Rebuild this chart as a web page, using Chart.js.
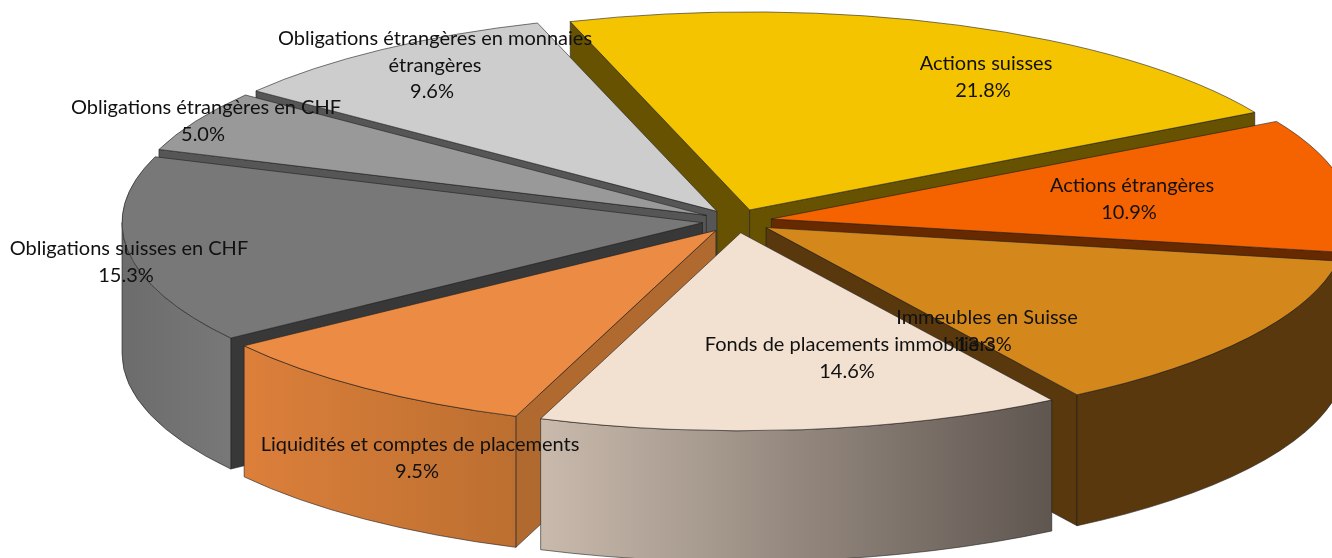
<!DOCTYPE html>
<html>
<head>
<meta charset="utf-8">
<style>
  html, body { margin: 0; padding: 0; background: #fff; }
  canvas { display: block; }
</style>
<script src="https://cdn.jsdelivr.net/npm/chart.js@4/dist/chart.umd.min.js"></script>
</head>
<body>
<canvas id="pie" width="1332" height="558"></canvas>
<script>
const categories = [
  ["Actions suisses"],
  ["Actions étrangères"],
  ["Immeubles en Suisse"],
  ["Fonds de placements immobiliers"],
  ["Liquidités et comptes de placements"],
  ["Obligations suisses en CHF"],
  ["Obligations étrangères en CHF"],
  ["Obligations étrangères en monnaies", "étrangères"]
];
const shares = [21.8, 10.9, 13.3, 14.6, 9.5, 15.3, 5.0, 9.6];

const topColors  = ["#f4c400", "#f56200", "#d4881c", "#f2e0d1", "#ec8b43", "#787878", "#999999", "#cdcdcd"];
const edgeColors = ["#665200", "#662900", "#58380c", "#5f5650", "#b06a30", "#383838", "#565656", "#565656"];
const wallFrom   = ["#665200", "#662900", "#58380c", "#c9baac", "#dc7f3b", "#6c6c6c", "#6c6c6c", "#6c6c6c"];
const wallTo     = ["#665200", "#662900", "#58380c", "#5f5650", "#bc6f30", "#787878", "#787878", "#787878"];

// where the first line of each label is centred
const labelSpots = [[986, 64], [1132, 186], [987, 318], [850, 345], [420, 445], [129, 249], [206, 108], [435, 39]];

// the flattened disc on screen
const disc = { x: 737, y: 221, rx: 580.5, ry: 198, depth: 131, explode: 0.06 };

const outline = "rgba(30,30,30,0.75)";

// disc centre of one slice once it is pulled out
function sliceCentre(arc) {
  const mid = (arc.startAngle + arc.endAngle) / 2;
  return {
    x: disc.x + disc.rx * disc.explode * Math.cos(mid),
    y: disc.y + disc.ry * disc.explode * Math.sin(mid)
  };
}

function rimPoint(c, angle) {
  return { x: c.x + disc.rx * Math.cos(angle), y: c.y + disc.ry * Math.sin(angle) };
}

function drawQuad(ctx, a, b, fill) {
  ctx.beginPath();
  ctx.moveTo(a.x, a.y);
  ctx.lineTo(b.x, b.y);
  ctx.lineTo(b.x, b.y + disc.depth);
  ctx.lineTo(a.x, a.y + disc.depth);
  ctx.closePath();
  ctx.fillStyle = fill;
  ctx.fill();
  ctx.stroke();
}

function drawRimWall(ctx, c, from, to, i) {
  const left = rimPoint(c, to).x, right = rimPoint(c, from).x;
  const grad = ctx.createLinearGradient(left, 0, right, 0);
  grad.addColorStop(0, wallFrom[i]);
  grad.addColorStop(1, wallTo[i]);
  ctx.beginPath();
  ctx.ellipse(c.x, c.y, disc.rx, disc.ry, 0, from, to);
  ctx.ellipse(c.x, c.y + disc.depth, disc.rx, disc.ry, 0, to, from, true);
  ctx.closePath();
  ctx.fillStyle = grad;
  ctx.fill();
  ctx.stroke();
}

function drawSlice(ctx, arc, i) {
  const c = sliceCentre(arc);
  const TAU = Math.PI * 2;
  let a1 = arc.startAngle % TAU;
  if (a1 < 0) a1 += TAU;
  const a2 = a1 + (arc.endAngle - arc.startAngle);

  ctx.save();
  ctx.strokeStyle = outline;
  ctx.lineWidth = 0.8;

  // cut faces, only those turned to the viewer
  if (Math.cos(arc.startAngle) < 0) drawQuad(ctx, c, rimPoint(c, arc.startAngle), edgeColors[i]);
  if (Math.cos(arc.endAngle) > 0) drawQuad(ctx, c, rimPoint(c, arc.endAngle), edgeColors[i]);

  // outer wall, lower half of the ellipse only
  [[0, Math.PI], [TAU, TAU + Math.PI]].forEach(function (win) {
    const from = Math.max(a1, win[0]), to = Math.min(a2, win[1]);
    if (to > from) drawRimWall(ctx, c, from, to, i);
  });

  // top face is the chart's own arc, squeezed onto the disc
  ctx.save();
  ctx.translate(c.x, c.y);
  ctx.scale(disc.rx / arc.outerRadius, disc.ry / arc.outerRadius);
  ctx.translate(-arc.x, -arc.y);
  arc.draw(ctx);
  ctx.restore();

  ctx.beginPath();
  ctx.moveTo(c.x, c.y);
  ctx.ellipse(c.x, c.y, disc.rx, disc.ry, 0, arc.startAngle, arc.endAngle);
  ctx.closePath();
  ctx.stroke();
  ctx.restore();
}

const pie3d = {
  id: "pie3d",
  beforeDatasetDraw: function (chart) {
    const ctx = chart.ctx;
    const arcs = chart.getDatasetMeta(0).data;
    // paint from the back of the disc to the front
    const order = arcs.map(function (arc, i) { return i; }).sort(function (a, b) {
      return Math.sin((arcs[a].startAngle + arcs[a].endAngle) / 2) - Math.sin((arcs[b].startAngle + arcs[b].endAngle) / 2);
    });
    order.forEach(function (i) { drawSlice(ctx, arcs[i], i); });
    return false;
  },
  afterDraw: function (chart) {
    const ctx = chart.ctx;
    const lineH = 26.5;
    ctx.save();
    ctx.font = "20px Lato, 'Noto Sans', sans-serif";
    ctx.fillStyle = "#111";
    ctx.textAlign = "center";
    ctx.textBaseline = "middle";
    categories.forEach(function (lines, i) {
      const spot = labelSpots[i];
      lines.forEach(function (line, n) {
        ctx.fillText(line, spot[0], spot[1] + n * lineH);
      });
      ctx.fillText(shares[i].toFixed(1) + "%", spot[0] - 3, spot[1] + lines.length * lineH);
    });
    ctx.restore();
  }
};

new Chart(document.getElementById("pie"), {
  type: "pie",
  data: {
    labels: categories.map(function (c) { return c.join(" "); }),
    datasets: [{ data: shares, backgroundColor: topColors, borderWidth: 0 }]
  },
  options: {
    responsive: false,
    animation: false,
    rotation: -18,
    plugins: { legend: { display: false }, tooltip: { enabled: false } }
  },
  plugins: [pie3d]
});
</script>
</body>
</html>
